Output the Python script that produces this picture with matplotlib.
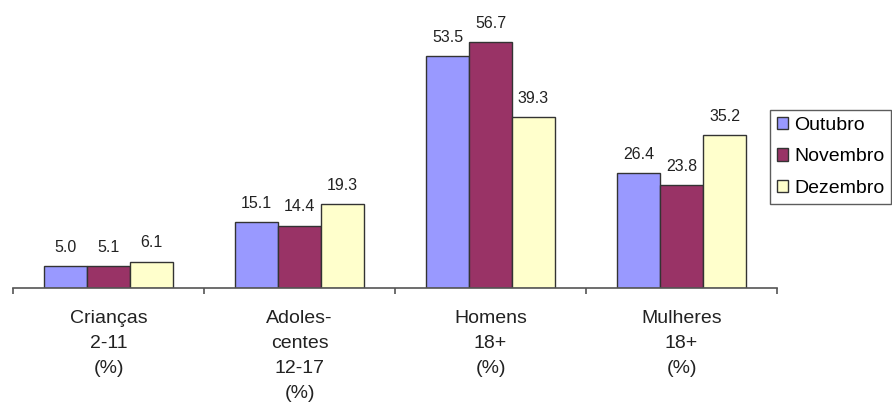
import matplotlib.pyplot as plt
import numpy as np

# dados do gráfico (audiência por faixa)
categorias = ["Crianças\n2-11\n(%)", "Adoles-\ncentes\n12-17\n(%)", "Homens\n18+\n(%)", "Mulheres\n18+\n(%)"]
meses = ["Outubro", "Novembro", "Dezembro"]
outubro = [5.0, 15.1, 53.5, 26.4]
novembro = [5.1, 14.4, 56.7, 23.8]
dezembro = [6.1, 19.3, 39.3, 35.2]

cores = ["#9999FF", "#993366", "#FFFFCC"]
plt.rcParams['font.family'] = ['Liberation Sans', 'DejaVu Sans']

fig = plt.figure(figsize=(8.92, 4.11), dpi=100)
ax = fig.add_axes([0.0146, 0.2993, 0.8565, 0.652])

x = np.arange(len(categorias))
largura = 0.225
series = [outubro, novembro, dezembro]
for i, (serie, mes) in enumerate(zip(series, meses)):
    pos = x + (i - 1) * largura
    barras = ax.bar(pos, serie, largura, color=cores[i], edgecolor="#333333",
                    linewidth=1.0, label=mes)
    for b, v in zip(barras, serie):
        ax.annotate(f"{v:.1f}", (b.get_x() + b.get_width() / 2, v),
                    xytext=(0, 8), textcoords="offset points",
                    ha="center", va="bottom", fontsize=11.5, color="#222222")

ax.set_xlim(-0.5, len(categorias) - 0.5)
ax.set_ylim(0, 61.77)

# eixo: só a linha de base com marcas nas divisões
for lado in ["top", "right", "left"]:
    ax.spines[lado].set_visible(False)
ax.spines["bottom"].set_color("#555555")
ax.spines["bottom"].set_linewidth(1.2)
ax.set_yticks([])
ax.set_xticks(x)
ax.set_xticklabels(categorias, fontsize=14, color="#222222", linespacing=1.6)
ax.tick_params(axis="x", which="major", length=0, pad=16)
ax.set_xticks(np.arange(len(categorias) + 1) - 0.5, minor=True)
ax.tick_params(axis="x", which="minor", length=4, width=1.2, color="#555555", direction="out")

leg = fig.legend(loc="upper left", bbox_to_anchor=(770 / 892, 1 - 110 / 411),
                 fontsize=14, frameon=True, fancybox=False, edgecolor="#333333",
                 handlelength=0.6, handleheight=0.6, handletextpad=0.3,
                 borderpad=0.35, labelspacing=0.75, borderaxespad=0)
leg.get_frame().set_linewidth(1.0)

fig.savefig("out.png", dpi=100)
